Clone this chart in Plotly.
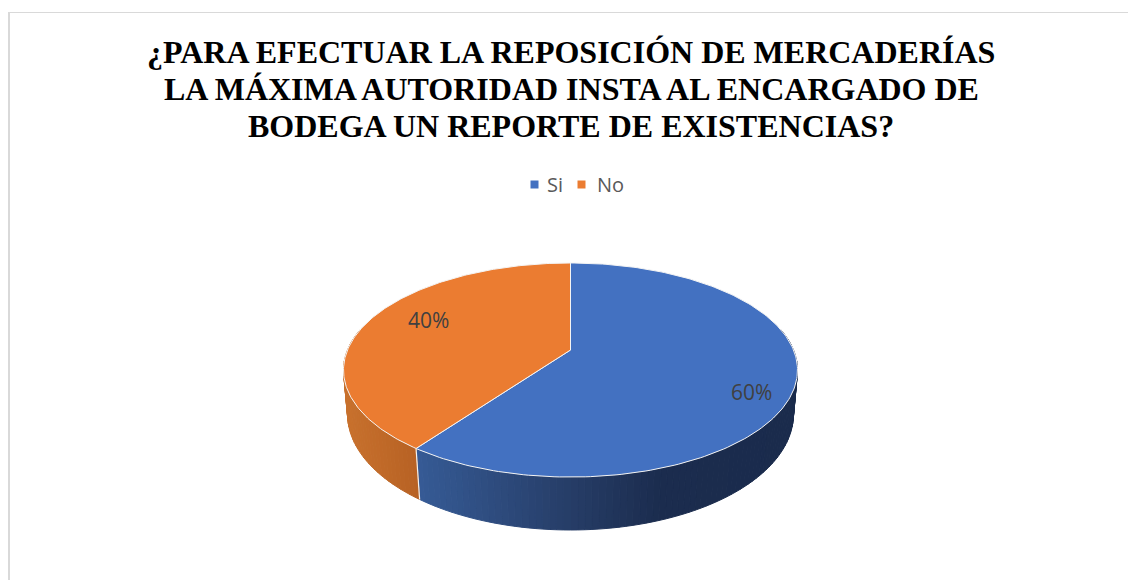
import numpy as np
import plotly.graph_objects as go

categories = ["Si", "No"]
values = [60, 40]
title_lines = [
    "¿PARA EFECTUAR LA REPOSICIÓN DE MERCADERÍAS",
    "LA MÁXIMA AUTORIDAD INSTA AL ENCARGADO DE",
    "BODEGA UN REPORTE DE EXISTENCIAS?",
]
top_colors = ["#4371C1", "#EB7C31"]

# pie drawn by hand because go.Pie can't tilt: the axes run in page pixels
W, H = 1128, 580
CX = 570.5
TOP = dict(y0=350, a=223, b=103.3, k=0.187)
BOTTOM = dict(y0=393.4, a=219.3, b=112, k=0.18)


def project(theta, plane, radius=1.0):
    # theta is clockwise from 12 o'clock, k gives the perspective
    u = radius * np.sin(theta)
    v = radius * np.cos(theta)
    w = 1 + plane["k"] * v
    return CX + plane["a"] * u / w, plane["y0"] - plane["b"] * v / w


def side_color(x, stops):
    xs, rgb = zip(*stops)
    r, g, b = [np.interp(x, xs, [c[i] for c in rgb]) for i in range(3)]
    return f"rgb({r:.0f},{g:.0f},{b:.0f})"


side_stops = [
    [(416, (54, 91, 150)), (570, (38, 61, 103)), (660, (27, 44, 78)), (800, (26, 43, 76))],
    [(345, (200, 113, 45)), (416, (184, 98, 36))],
]

shares = np.array(values) / sum(values) * 2 * np.pi
ends = np.cumsum(shares)
starts = ends - shares

fig = go.Figure()

# outer wall, split into thin strips to get the gradient
for start, end, stops in zip(starts, ends, side_stops):
    edges = np.linspace(start, end, int(np.degrees(end - start) / 1.5) + 1)
    for a0, a1 in zip(edges[:-1], edges[1:]):
        if np.cos((a0 + a1) / 2) > 0.2:
            continue
        thetas = np.array([a0, a1])
        xt, yt = project(thetas, TOP)
        xb, yb = project(thetas, BOTTOM)
        color = side_color((xt.mean() + xb.mean()) / 2, stops)
        fig.add_trace(go.Scatter(
            x=[xt[0], xt[1], xb[1], xb[0], xt[0]],
            y=[yt[0], yt[1], yb[1], yb[0], yt[0]],
            mode="lines", fill="toself", fillcolor=color,
            line=dict(color=color, width=1),
            showlegend=False, hoverinfo="skip",
        ))

# white edge where the two walls meet
xt, yt = project(ends[0], TOP)
xb, yb = project(ends[0], BOTTOM)
fig.add_trace(go.Scatter(
    x=[xt, xb], y=[yt, yb], mode="lines",
    line=dict(color="#f2f2f2", width=1.2),
    showlegend=False, hoverinfo="skip",
))

# top faces
for start, end, color in zip(starts, ends, top_colors):
    thetas = np.linspace(start, end, 200)
    xs, ys = project(thetas, TOP)
    fig.add_trace(go.Scatter(
        x=np.r_[CX, xs, CX], y=np.r_[TOP["y0"], ys, TOP["y0"]],
        mode="lines", fill="toself", fillcolor=color,
        line=dict(color="#f4f4f4", width=1),
        showlegend=False, hoverinfo="skip",
    ))

# legend keys, the native legend spaces them too wide
fig.add_trace(go.Scatter(
    x=[534.5, 581.5], y=[184.5, 184.5], mode="markers",
    marker=dict(symbol="square", size=8, color=top_colors),
    showlegend=False, hoverinfo="skip",
))

annotations = []
for line, y in zip(title_lines, [52, 88.5, 126]):
    annotations.append(dict(
        text=f"<b>{line}</b>", x=571, y=y, xref="x", yref="y", showarrow=False,
        font=dict(family="Liberation Serif", size=32, color="#000000"),
    ))
for value, x, y in zip(values, [751, 428], [392, 320]):
    annotations.append(dict(
        text=f"{value / sum(values):.0%}", x=x, y=y, xref="x", yref="y", showarrow=False,
        font=dict(family="Open Sans", size=21, color="#404040"),
    ))
for name, x in zip(categories, [545, 595]):
    annotations.append(dict(
        text=name, x=x, y=184, xref="x", yref="y", xanchor="left", showarrow=False,
        font=dict(family="Open Sans", size=20, color="#595959"),
    ))

fig.update_layout(
    width=W, height=H,
    margin=dict(l=0, r=0, t=0, b=0),
    paper_bgcolor="white", plot_bgcolor="white",
    xaxis=dict(range=[0, W], visible=False, fixedrange=True),
    yaxis=dict(range=[H, 0], visible=False, fixedrange=True),
    annotations=annotations,
    showlegend=False,
    shapes=[
        dict(type="line", x0=8, x1=W, y0=12.5, y1=12.5, xref="x", yref="y",
             line=dict(color="#d9d9d9", width=1)),
        dict(type="line", x0=9, x1=9, y0=12, y1=H, xref="x", yref="y",
             line=dict(color="#d9d9d9", width=2)),
    ],
)

# browser default body margin would push the whole figure 8px in
fig.write_html(
    "out.html",
    config=dict(displayModeBar=False),
    post_script="document.body.style.margin='0';document.body.style.overflow='hidden';",
)
